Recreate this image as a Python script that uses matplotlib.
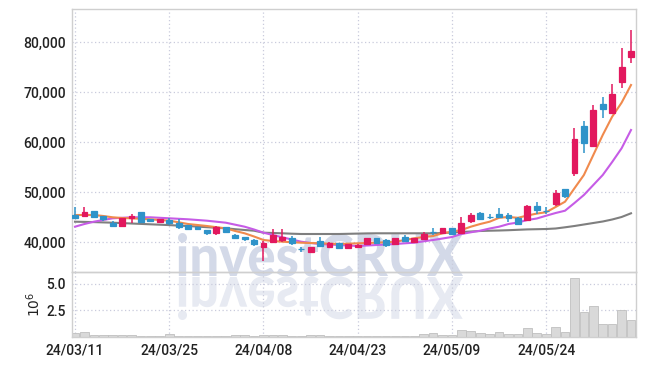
import numpy as np
import matplotlib
matplotlib.use("Agg")
import matplotlib.pyplot as plt
from matplotlib.textpath import TextPath
from matplotlib.patches import PathPatch
from matplotlib.font_manager import FontProperties
from matplotlib.transforms import Affine2D
from matplotlib.ticker import FuncFormatter

# daily candles (KRW), 60 trading days from 24/03/11
opens = [45400, 45260, 46200, 45200, 43860, 43200, 44860, 46000, 44540, 44000,
         44400, 43860, 43400, 43060, 42400, 41740, 42940, 41400, 41060, 40400,
         39060, 40060, 40400, 40860, 38640, 38060, 40200, 38940, 39740, 38740,
         38940, 39600, 40740, 40400, 39540, 40940, 39940, 40600, 42040, 41740,
         42740, 41740, 44260, 45740, 45100, 45600, 45400, 44740, 44400, 47200,
         46300, 47600, 50540, 53740, 63200, 59200, 67600, 65860, 72060, 77060]
highs = [47000, 46940, 46200, 45300, 44260, 44900, 45600, 46000, 44700, 44600,
         44740, 44540, 43500, 43100, 42500, 43200, 43100, 41600, 41100, 40600,
         40200, 42600, 42600, 41260, 39060, 39060, 41060, 40100, 39900, 39700,
         39600, 40900, 40900, 40600, 40900, 41400, 40900, 42060, 42740, 42900,
         42900, 45060, 45860, 46060, 45600, 46740, 45860, 45060, 47400, 48060,
         47060, 50400, 50540, 62740, 64200, 67400, 68940, 71600, 78740, 82400]
lows = [44800, 45140, 44740, 44260, 43060, 42940, 43740, 43900, 44100, 43740,
        43400, 42600, 42400, 42400, 41500, 41500, 41900, 40600, 40300, 39300,
        36200, 39800, 40060, 39500, 38060, 37800, 38940, 38800, 38600, 38600,
        38800, 39500, 39600, 39060, 39400, 40100, 39800, 40500, 41400, 41600,
        41400, 41540, 43860, 44500, 44540, 44740, 44060, 43400, 44300, 45600,
        45600, 47200, 48740, 53200, 57740, 59060, 64740, 65540, 70740, 75740]
closes = [44860, 46060, 44940, 44540, 43260, 44860, 45200, 44000, 44200, 44540,
          43860, 42940, 42600, 42540, 41740, 43060, 42000, 40740, 40600, 39600,
          39860, 41400, 41060, 39740, 38560, 39060, 39200, 39800, 38740, 39540,
          39400, 40740, 39740, 39400, 40740, 40260, 40740, 41540, 41960, 42740,
          41540, 43860, 45400, 44600, 45020, 45060, 44740, 43540, 47200, 46400,
          46220, 49860, 49200, 60600, 59860, 66400, 66540, 69600, 75060, 78200]

# moving averages
ma_short = [45400, 45400, 45400, 45200, 44940, 44800, 44740, 44640, 44540, 44400,
            44260, 43940, 43600, 43400, 43200, 42960, 42740, 42200, 41740, 41100,
            40400, 40200, 40060, 39960, 39860, 39800, 39740, 39660, 39600, 39660,
            39740, 39800, 39860, 39960, 40060, 40400, 40740, 41000, 41200, 41740,
            42060, 42400, 43060, 43600, 44060, 44840, 45000, 44840, 45300, 45680,
            45960, 47000, 48060, 50740, 53400, 57400, 61400, 65060, 67860, 71400]
ma_mid = [43060, 43600, 44060, 44400, 44740, 44840, 44940, 44940, 44940, 44840,
          44740, 44640, 44540, 44400, 44260, 44060, 43860, 43460, 43060, 42500,
          41860, 41400, 40940, 40500, 40060, 39800, 39600, 39500, 39400, 39300,
          39200, 39300, 39400, 39500, 39600, 39740, 39860, 40140, 40400, 40700,
          41000, 41600, 41940, 42260, 42700, 43060, 43600, 43900, 44400, 44700,
          45260, 45800, 46260, 47800, 49400, 51400, 53400, 56000, 58740, 62400]
ma_long = [44060, 44020, 43980, 43920, 43860, 43780, 43700, 43620, 43540, 43460,
           43380, 43280, 43200, 43080, 42960, 42840, 42740, 42560, 42400, 42260,
           41860, 41800, 41740, 41660, 41600, 41600, 41600, 41600, 41600, 41640,
           41680, 41720, 41740, 41740, 41740, 41740, 41740, 41740, 41740, 41800,
           41900, 42000, 42100, 42200, 42260, 42300, 42360, 42440, 42520, 42560,
           42600, 42700, 42940, 43200, 43500, 43800, 44100, 44500, 45000, 45740]

# volume, millions of shares
volume = [0.35, 0.5, 0.2, 0.2, 0.2, 0.2, 0.15, 0.1, 0.1, 0.1,
          0.25, 0.1, 0.1, 0.1, 0.1, 0.1, 0.1, 0.2, 0.2, 0.1,
          0.2, 0.2, 0.2, 0.1, 0.1, 0.2, 0.2, 0.1, 0.1, 0.1,
          0.1, 0.1, 0.1, 0.1, 0.1, 0.1, 0.1, 0.25, 0.37, 0.15,
          0.15, 0.68, 0.58, 0.37, 0.25, 0.46, 0.25, 0.25, 0.8, 0.37,
          0.25, 0.9, 0.5, 5.53, 2.38, 2.96, 1.2, 1.2, 2.5, 1.57]

tick_pos = [0, 10, 20, 30, 40, 50]
tick_labels = ["24/03/11", "24/03/25", "24/04/08", "24/04/23", "24/05/09", "24/05/24"]

UP = "#e2185e"
DOWN = "#2f93c9"
GRID = "#c9cbdc"
SPINE = "#cfcfcf"

plt.rcParams["font.family"] = ["Roboto", "DejaVu Sans"]

W, H = 645, 366
fig = plt.figure(figsize=(W / 100, H / 100), dpi=100)
ax = fig.add_axes([72 / W, 1 - 272 / H, 564 / W, 263 / H])
axv = fig.add_axes([72 / W, 1 - 337 / H, 564 / W, 65 / H], sharex=ax)

o = np.array(opens)
hi = np.array(highs)
lo = np.array(lows)
c = np.array(closes)
x = np.arange(len(o))
up = c >= o
cols = np.where(up, UP, DOWN)

ax.vlines(x, lo, hi, colors=cols, lw=1.1, zorder=3)
ax.bar(x, np.abs(c - o), bottom=np.minimum(o, c), width=0.62,
       color=cols, edgecolor=cols, lw=0.9, zorder=4)

ax.plot(x, ma_long, color="#7f7f7f", lw=1.5, zorder=2)
ax.plot(x, ma_mid, color="#c65ce6", lw=1.5, zorder=2)
ax.plot(x, ma_short, color="#f08a4d", lw=1.5, zorder=2)

ax.set_xlim(-0.32, 59.53)
ax.set_ylim(34000, 86600)
ax.set_yticks([40000, 50000, 60000, 70000, 80000])
ax.yaxis.set_major_formatter(FuncFormatter(lambda v, p: f"{v:,.0f}"))

axv.bar(x, volume, width=0.92, color="#d9d9d9", edgecolor="#bfbfbf", lw=0.6, zorder=2)
axv.set_ylim(0, 6.11)
axv.set_yticks([2.5, 5.0])
axv.yaxis.set_major_formatter(FuncFormatter(lambda v, p: f"{v:.1f}"))
axv.set_ylabel(r"$10^6$", fontsize=10, labelpad=2, color="#222222")
axv.set_xticks(tick_pos)
axv.set_xticklabels(tick_labels)

for a in (ax, axv):
    a.set_facecolor("none")
    a.grid(True, color=GRID, ls=(0, (1, 2)), lw=0.9)
    a.set_axisbelow(True)
    a.tick_params(length=0, labelsize=10, colors="#222222", pad=4.5)
    for s in a.spines.values():
        s.set_color(SPINE)
        s.set_linewidth(1.0)
plt.setp(ax.get_xticklabels(), visible=False)
for lab in ax.get_yticklabels() + axv.get_yticklabels() + axv.get_xticklabels():
    lab.set_fontweight("medium")

# watermark with its reflection
tp = TextPath((0, 0), "investCRUX", size=100,
              prop=FontProperties(family=["Lato", "DejaVu Sans"], weight="black"))
ext = tp.get_extents()
sx = (463 - 178) / ext.width
sy = (276 - 233) / ext.y1
to_fig = Affine2D().scale(1 / W, 1 / H) + fig.transFigure
t_up = Affine2D().translate(-ext.x0, 0).scale(sx, sy).translate(178, H - 276) + to_fig
t_dn = Affine2D().translate(-ext.x0, 0).scale(sx, -sy).translate(178, H - 277) + to_fig
fig.add_artist(PathPatch(tp, transform=t_up, facecolor="#d3d9e8", edgecolor="none", zorder=-1))
fig.add_artist(PathPatch(tp, transform=t_dn, facecolor="#e7eaf2", edgecolor="none", zorder=-1))

fig.savefig("out.png", dpi=100, facecolor="white")
